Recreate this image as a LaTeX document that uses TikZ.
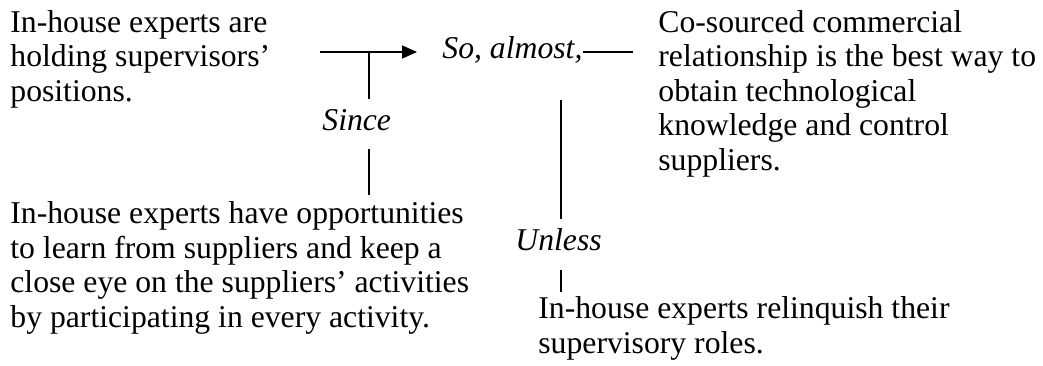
\documentclass[tikz,border=0pt]{standalone}
\usepackage{fontspec}
\setmainfont{Liberation Serif}
\usetikzlibrary{arrows.meta}
\tikzset{
  txt/.style={anchor=base west, inner sep=0pt, align=left, font=\fontsize{15.85}{17.25}\selectfont},
  lbl/.style={txt, font=\fontsize{15.85}{17.25}\selectfont\itshape},
  link/.style={line width=0.7pt}
}
\begin{document}
\begin{tikzpicture}[x=0.5pt, y=-0.5pt]
    \useasboundingbox (0,0) rectangle (1043,365);

    % Text blocks (placed at the baseline of their last line)
    \node[txt] (data) at (10,101) {In-house experts are\\holding supervisors'\\positions.};
    \node[txt] (warrant) at (10,327) {In-house experts have opportunities\\to learn from suppliers and keep a\\close eye on the suppliers' activities\\by participating in every activity.};
    \node[txt] (claim) at (658,170) {Co-sourced commercial\\relationship is the best way to\\obtain technological\\knowledge and control\\suppliers.};
    \node[txt] (rebuttal) at (538,353) {In-house experts relinquish their\\supervisory roles.};

    % Labels
    \node[lbl] (so) at (442,58) {So, almost,};
    \node[lbl] (since) at (322,130) {Since};
    \node[lbl] (unless) at (515,250) {Unless};

    \coordinate (a) at (320,52);
    \coordinate (b) at (417,52);
    \coordinate (c) at (369,52);
    \coordinate (d) at (369,99);
    \coordinate (e) at (369,149);
    \coordinate (f) at (369,195);
    \coordinate (g) at (583,52);
    \coordinate (h) at (633,52);
    \coordinate (i) at (561,100);
    \coordinate (j) at (561,219);
    \coordinate (k) at (561,270);
    \coordinate (l) at (561,292);

    % Connectors
    \draw[link, -{Triangle[length=7.5pt,width=6.5pt]}] (a) -- (b);
    \draw[link] (c) -- (d);
    \draw[link] (e) -- (f);
    \draw[link] (g) -- (h);
    \draw[link] (i) -- (j);
    \draw[link] (k) -- (l);
\end{tikzpicture}
\end{document}
